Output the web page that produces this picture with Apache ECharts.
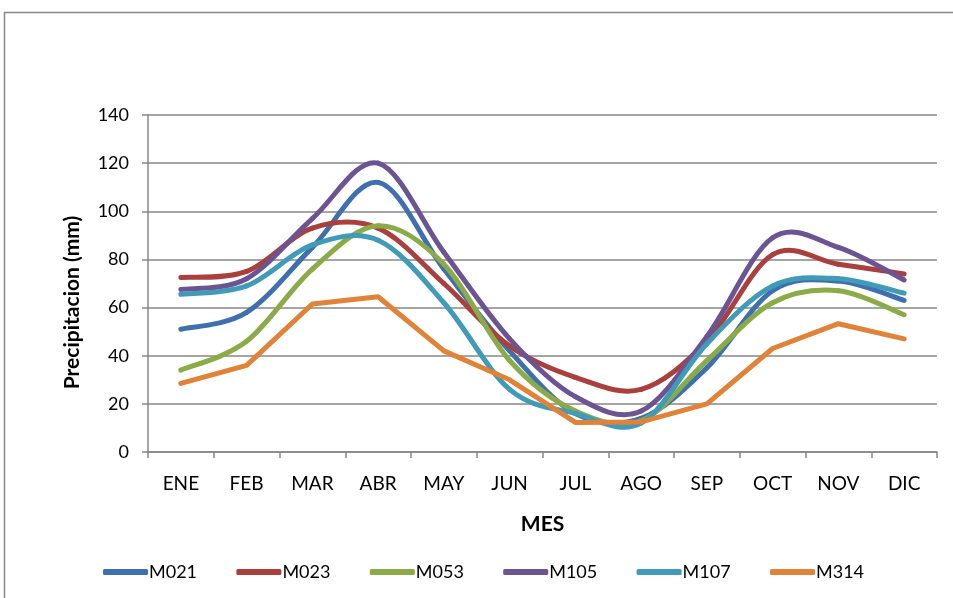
<!DOCTYPE html>
<html>
<head>
<meta charset="utf-8">
<script src="https://cdn.jsdelivr.net/npm/echarts@6/dist/echarts.min.js"></script>
<style>
  html, body { margin: 0; padding: 0; background: #ffffff; }
  #chart { width: 953px; height: 598px; }
</style>
</head>
<body>
<div id="chart"></div>
<script>
// Monthly precipitation (mm) per station
const months = ['ENE', 'FEB', 'MAR', 'ABR', 'MAY', 'JUN', 'JUL', 'AGO', 'SEP', 'OCT', 'NOV', 'DIC'];
const yTicks = [0, 20, 40, 60, 80, 100, 120, 140];

const m021 = [51, 58, 85, 112, 76, 42, 16, 14, 35, 67, 71, 63];
const m023 = [72.5, 75, 93, 93, 70, 44, 31, 26, 46, 82, 78, 74];
const m053 = [34, 46, 76, 94, 78, 38, 17, 13, 38, 62, 67, 57];
const m105 = [67.5, 72, 97, 120, 83, 47, 23, 17, 48, 89, 85, 71.5];
const m107 = [65.5, 69, 86, 88, 62, 26, 16, 12, 45, 69, 72, 66];
const m314 = [28.5, 36, 61.5, 64.5, 42, 30, 12.3, 12.5, 20, 43, 53.3, 47];

const seriesDefs = [
  { name: 'M021', data: m021, color: '#3f6fae', smooth: true },
  { name: 'M023', data: m023, color: '#a9403e', smooth: true },
  { name: 'M053', data: m053, color: '#8aab48', smooth: true },
  { name: 'M105', data: m105, color: '#6c5493', smooth: true },
  { name: 'M107', data: m107, color: '#3f9bb8', smooth: true },
  { name: 'M314', data: m314, color: '#e08237', smooth: false }
];

const font = 'Lato, "Liberation Sans", sans-serif';
const gray = '#878787';
const LINE_W = 5;

// Catmull-Rom style curve segment between point i and i+1 (passes through every value)
function curveSegment(vals, color) {
  const n = vals.length;
  return function (params, api) {
    const i = params.dataIndex;
    if (i >= n - 1) return null;
    const pt = k => {
      const kk = Math.max(0, Math.min(n - 1, k));
      return api.coord([kk, vals[kk]]);
    };
    const p0 = pt(i - 1), p1 = pt(i), p2 = pt(i + 1), p3 = pt(i + 2);
    const t = 1 / 6;
    return {
      type: 'bezierCurve',
      shape: {
        x1: p1[0], y1: p1[1],
        x2: p2[0], y2: p2[1],
        cpx1: p1[0] + (p2[0] - p0[0]) * t, cpy1: p1[1] + (p2[1] - p0[1]) * t,
        cpx2: p2[0] - (p3[0] - p1[0]) * t, cpy2: p2[1] - (p3[1] - p1[1]) * t
      },
      style: { fill: null, stroke: color, lineWidth: LINE_W, lineCap: 'round', lineJoin: 'round' },
      silent: true
    };
  };
}

const chart = echarts.init(document.getElementById('chart'), null, { renderer: 'canvas' });

const legends = seriesDefs.map((s, i) => ({
  data: [{ name: s.name, itemStyle: { color: s.color } }],
  left: 103 + i * 133.4,
  top: 563,
  padding: 0,
  icon: 'roundRect',
  itemWidth: 45,
  itemHeight: 6,
  itemGap: 0,
  selectedMode: false,
  textStyle: { fontFamily: font, fontSize: 18, color: '#000', padding: [0, 0, 0, -4] }
}));

const series = seriesDefs.map(s => {
  if (s.smooth) {
    return {
      name: s.name,
      type: 'custom',
      data: s.data.map((v, i) => [i, v]),
      encode: { x: 0, y: 1 },
      itemStyle: { color: s.color },
      renderItem: curveSegment(s.data, s.color)
    };
  }
  return {
    name: s.name,
    type: 'line',
    data: s.data,
    smooth: false,
    symbol: 'none',
    lineStyle: { color: s.color, width: LINE_W, cap: 'round', join: 'round' },
    itemStyle: { color: s.color }
  };
});

chart.setOption({
  animation: false,
  backgroundColor: '#ffffff',
  graphic: [{
    type: 'rect',
    shape: { x: 4.5, y: 12.5, width: 1200, height: 1200 },
    style: { fill: 'none', stroke: gray, lineWidth: 1.5 },
    silent: true
  }],
  grid: { left: 148, right: 16, top: 115, bottom: 146, containLabel: false },
  legend: legends,
  xAxis: {
    type: 'category',
    data: months,
    boundaryGap: true,
    name: 'MES',
    nameLocation: 'middle',
    nameGap: 62,
    nameTextStyle: { fontFamily: font, fontSize: 21, fontWeight: 'bold', color: '#000' },
    axisLine: { lineStyle: { color: gray, width: 1.5 } },
    axisTick: { show: true, alignWithLabel: false, length: 6, lineStyle: { color: gray, width: 1.5 } },
    axisLabel: { fontFamily: font, fontSize: 19, color: '#000', margin: 22 },
    splitLine: { show: false }
  },
  yAxis: {
    type: 'value',
    min: 0,
    max: 140,
    interval: 20,
    name: 'Precipitacion (mm)',
    nameLocation: 'middle',
    nameGap: 65,
    nameRotate: 90,
    nameTextStyle: {
      fontFamily: font, fontSize: 21, fontWeight: 'bold', color: '#000',
      padding: [0, 38, 0, 0]
    },
    axisLine: { show: true, lineStyle: { color: gray, width: 1.5 } },
    axisTick: { show: true, length: 6, lineStyle: { color: gray, width: 1.5 } },
    axisLabel: {
      fontFamily: font, fontSize: 18, color: '#000', margin: 19,
      formatter: v => (yTicks.includes(v) ? String(v) : '')
    },
    splitLine: { show: true, lineStyle: { color: gray, width: 1.5 } }
  },
  series: series
});
</script>
</body>
</html>
